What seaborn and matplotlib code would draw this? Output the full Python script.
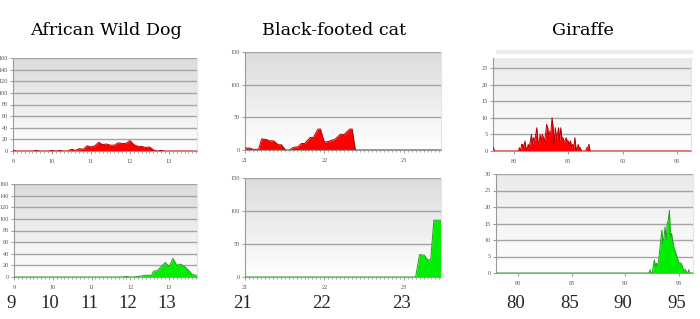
import numpy as np
import pandas as pd
import matplotlib
matplotlib.use("Agg")
import matplotlib.pyplot as plt
import seaborn as sns
from matplotlib import transforms
from matplotlib.colors import LinearSegmentedColormap
from matplotlib.ticker import MultipleLocator

sns.set_style("white")
plt.rcParams["font.family"] = ["Liberation Serif", "DejaVu Serif"]

# ---------------- data ----------------
titles = ["African Wild Dog", "Black-footed cat", "Giraffe"]

dog_red_x = [9.0, 9.1, 9.5, 9.6, 9.7, 9.9, 10.0, 10.1, 10.2, 10.3, 10.4, 10.5, 10.6, 10.7, 10.8,
             10.9, 11.0, 11.1, 11.2, 11.3, 11.4, 11.5, 11.6, 11.7, 11.8, 11.9, 12.0, 12.1,
             12.2, 12.3, 12.4, 12.5, 12.6, 12.7, 12.8, 12.9, 13.0, 13.72]
dog_red_y = [1, 0, 0, 1, 0, 0, 1, 0, 1, 0, 0, 3, 1, 4, 3,
             9, 7, 9, 15, 11, 12, 10, 10, 14, 13, 13, 18, 11,
             8, 8, 6, 7, 2, 0, 1, 0, 0, 0]

dog_green_x = [9.0, 11.8, 11.9, 12.0, 12.1, 12.2, 12.3, 12.4, 12.5, 12.55, 12.6, 12.7, 12.8,
               12.9, 13.0, 13.1, 13.2, 13.3, 13.4, 13.5, 13.6, 13.72]
dog_green_y = [0, 0, 1, 0, 0, 1, 2, 3, 3, 3, 10, 11, 18,
               25, 18, 32, 20, 22, 18, 12, 4, 3]

cat_red_x = [21.0, 21.06, 21.1, 21.17, 21.21, 21.27, 21.31, 21.36, 21.42, 21.46, 21.51, 21.56,
             21.61, 21.67, 21.71, 21.75, 21.82, 21.86, 21.92, 21.95, 22.0, 22.05, 22.09, 22.13,
             22.2, 22.25, 22.32, 22.35, 22.39, 23.47]
cat_red_y = [3, 3, 1, 1, 17, 16, 14, 14, 8, 8, 0, 0,
             4, 5, 10, 10, 19, 19, 32, 32, 12, 13, 15, 16,
             24, 24, 32, 32, 0, 0]

cat_green_x = [21.0, 23.15, 23.2, 23.26, 23.3, 23.34, 23.38, 23.47]
cat_green_y = [0, 0, 34, 33, 26, 26, 86, 86]

giraffe_red_x = [78.0, 78.1, 78.2] + [round(80.4 + 0.1 * i, 1) for i in range(67)] + [96.3]
giraffe_red_y = [1, 1, 0,
                 0, 1, 0, 2, 2, 1, 3, 1, 0, 2, 1, 3, 5, 2, 4, 3, 5, 7, 3, 2, 5, 3, 5, 4, 3, 5,
                 8, 7, 4, 6, 6, 10, 7, 2, 7, 4, 5, 7, 3, 7, 4, 4, 3, 3, 4, 3, 3, 2, 3, 1, 2, 1,
                 4, 1, 0, 2, 1, 1, 0, 0, 0, 0, 0, 1, 1, 2, 0,
                 0]

giraffe_green_x = [78.0] + [round(92.2 + 0.1 * i, 1) for i in range(39)] + [96.3]
giraffe_green_y = [0,
                   0, 1, 0, 0, 2, 4, 2, 3, 2, 4, 7, 10, 13, 9, 11, 14, 10, 15, 16, 19, 11, 12,
                   10, 8, 7, 6, 5, 4, 3, 3, 3, 2, 1, 1, 1, 0, 0, 1, 0,
                   0]

dog_ticks = [9, 10, 11, 12, 13]
cat_ticks = [21, 22, 23]
giraffe_ticks = [80, 85, 90, 95]

# ---------------- figure ----------------
W, H = 700, 319
fig = plt.figure(figsize=(7.0, 3.19), dpi=100)


def rect(l, r, t, b):
    return [l / W, (H - b) / H, (r - l) / W, (b - t) / H]


def panel(box, xs, ys, fill, edge, xlim, ylim, yticks, xticks, minor, top_col):
    ax = fig.add_axes(box)
    cmap = LinearSegmentedColormap.from_list("bg", [top_col, "#ffffff"])
    ax.imshow(np.linspace(0, 1, 256).reshape(-1, 1), extent=[0, 1, 0, 1],
              transform=ax.transAxes, cmap=cmap, aspect="auto", zorder=0)
    for t in yticks[1:]:
        ax.axhline(t, color="#a4a4a4", lw=1.0, zorder=1)
    df = pd.DataFrame({"x": xs, "y": ys})
    ax.fill_between(df["x"], df["y"], 0, color=fill, lw=0, zorder=2)
    sns.lineplot(data=df, x="x", y="y", color=edge, lw=0.7, ax=ax, zorder=3,
                 sort=False, estimator=None)
    ax.set_xlim(*xlim)
    ax.set_ylim(*ylim)
    ax.set_yticks(yticks)
    ax.set_xticks(xticks)
    ax.set_xticklabels([str(t) for t in xticks])
    if minor:
        ax.xaxis.set_minor_locator(MultipleLocator(minor))
    ax.set_xlabel("")
    ax.set_ylabel("")
    ax.spines["top"].set_visible(False)
    ax.spines["right"].set_color("#e4e4e4")
    ax.spines["left"].set_color("#9a9a9a")
    ax.spines["bottom"].set_color("#9a9a9a")
    for s in ax.spines.values():
        s.set_linewidth(0.8)
    ax.tick_params(axis="both", which="major", labelsize=4.5, labelcolor="#555555",
                   length=2, width=0.6, color="#888888", pad=1.5)
    ax.tick_params(axis="x", which="minor", length=1.5, width=0.5, color="#888888",
                   bottom=True)
    ax.tick_params(axis="x", which="major", bottom=True, pad=4)
    ax.tick_params(axis="y", left=True)
    return ax


red, red_edge = "#ff0000", "#b00000"
green, green_edge = "#00ee00", "#2a9a2a"

a1 = panel(rect(13, 197, 58, 151), dog_red_x, dog_red_y, red, red_edge,
           (9, 13.72), (0, 160), list(range(0, 161, 20)), dog_ticks, 0.1, "#dcdcdc")
a2 = panel(rect(14, 197, 184, 277), dog_green_x, dog_green_y, green, green_edge,
           (9, 13.72), (0, 160), list(range(0, 161, 20)), dog_ticks, 0.1, "#dcdcdc")
b1 = panel(rect(245, 441, 52, 150), cat_red_x, cat_red_y, red, red_edge,
           (21, 23.47), (0, 150), [0, 50, 100, 150], cat_ticks, 0.05, "#dcdcdc")
b2 = panel(rect(245, 441, 178, 277), cat_green_x, cat_green_y, green, green_edge,
           (21, 23.47), (0, 150), [0, 50, 100, 150], cat_ticks, 0.05, "#dcdcdc")
c1 = panel(rect(493, 691, 58, 151), giraffe_red_x, giraffe_red_y, red, red_edge,
           (78.06, 96.3), (0, 28), [0, 5, 10, 15, 20, 25], giraffe_ticks, None, "#ebebeb")
c2 = panel(rect(496, 693, 174, 273), giraffe_green_x, giraffe_green_y, green, green_edge,
           (77.95, 96.3), (0, 30), [0, 5, 10, 15, 20, 25, 30], giraffe_ticks, None, "#ebebeb")

# thin light bar above the giraffe chart
fig.patches.append(plt.Rectangle((496 / W, (H - 53) / H), 196 / W, 3 / H,
                                 transform=fig.transFigure, color="#ececec", zorder=0))

# titles
for txt, cx in zip(titles, [106, 334, 583]):
    fig.text(cx / W, (H - 35) / H, txt, ha="center", va="baseline", fontsize=12.6,
             family=["DejaVu Serif"], color="black")

# big tick labels under the bottom row
shift = transforms.ScaledTranslation(-2.5 / 100, 0, fig.dpi_scale_trans)
for ax, ticks in [(a2, dog_ticks), (b2, cat_ticks), (c2, giraffe_ticks)]:
    tr = transforms.blended_transform_factory(ax.transData, fig.transFigure) + shift
    for t in ticks:
        fig.text(t, (H - 307.7) / H, str(t), transform=tr, ha="center", va="baseline",
                 fontsize=13.5)

fig.savefig("out.png", dpi=100)
